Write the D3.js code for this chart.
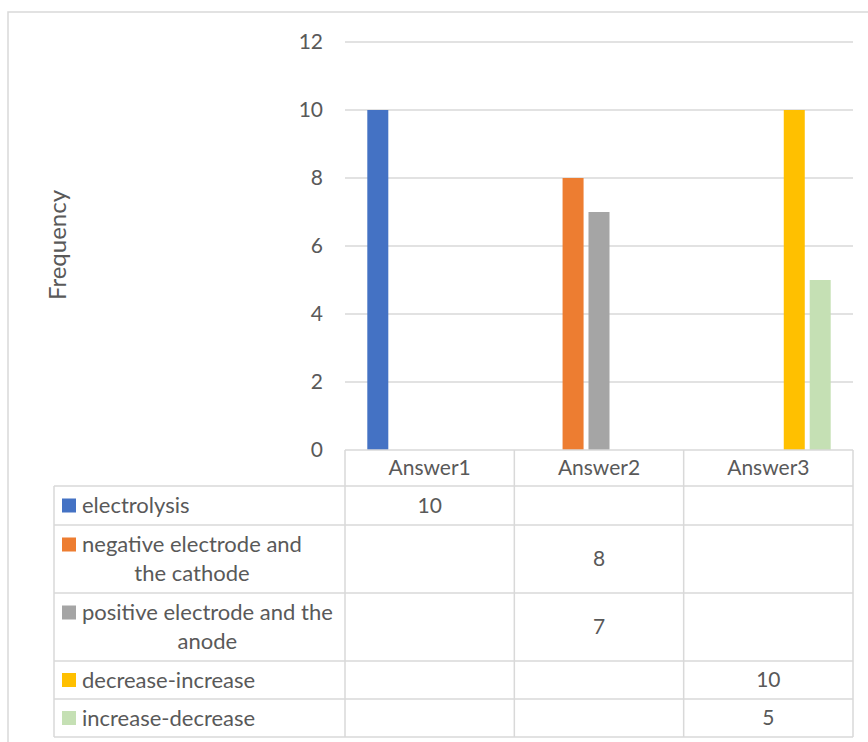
<!DOCTYPE html>
<html>
<head>
<meta charset="utf-8">
<script src="https://cdn.jsdelivr.net/npm/d3@7"></script>
<style>
  body { margin: 0; background: #fff; }
  text { font-family: Lato, "Open Sans", sans-serif; fill: #595959; }
</style>
</head>
<body>
<svg id="chart" width="868" height="742"></svg>
<script>
// chart data
const categories = ["Answer1", "Answer2", "Answer3"];
const seriesNames = [
  ["electrolysis"],
  ["negative electrode and", "the cathode"],
  ["positive electrode and the", "anode"],
  ["decrease-increase"],
  ["increase-decrease"]
];
const seriesColors = ["#4472c4", "#ed7d31", "#a5a5a5", "#ffc000", "#c5e0b4"];
// values per series, one per category (null = empty)
const seriesValues = [
  [10, null, null],
  [null, 8, null],
  [null, 7, null],
  [null, null, 10],
  [null, null, 5]
];
const yTicks = [0, 2, 4, 6, 8, 10, 12];

const svg = d3.select("#chart");
const gridColor = "#d9d9d9";
const fs = 21;

// outer chart border (right / bottom run off the picture)
svg.append("path")
  .attr("d", "M8,742 V12 H868")
  .attr("fill", "none")
  .attr("stroke", gridColor)
  .attr("stroke-width", 1.5);

const plotLeft = 345, plotRight = 853, plotTop = 42, plotBottom = 450;

const y = d3.scaleLinear().domain([0, 12]).range([plotBottom, plotTop]);
const x0 = d3.scaleBand().domain(categories).range([plotLeft, plotRight]).padding(0);
const x1 = d3.scaleBand().domain(d3.range(seriesNames.length))
  .range([0, x0.bandwidth()]).paddingInner(0.19).paddingOuter(0.86);

// gridlines
svg.append("g").selectAll("line")
  .data(yTicks.filter(t => t > 0))
  .enter().append("line")
  .attr("x1", plotLeft).attr("x2", plotRight)
  .attr("y1", d => y(d)).attr("y2", d => y(d))
  .attr("stroke", gridColor).attr("stroke-width", 1.5);

// y tick labels
svg.append("g").selectAll("text")
  .data(yTicks)
  .enter().append("text")
  .attr("x", 323)
  .attr("y", d => y(d))
  .attr("dy", "0.35em")
  .attr("text-anchor", "end")
  .attr("font-size", fs)
  .text(d => d);

// y axis title
svg.append("text")
  .attr("transform", "translate(58,245) rotate(-90)")
  .attr("text-anchor", "middle")
  .attr("dy", "0.35em")
  .attr("font-size", 24)
  .text("Frequency");

// bars
seriesValues.forEach((vals, si) => {
  svg.append("g").selectAll("rect")
    .data(vals.map((v, ci) => ({ v, cat: categories[ci] })).filter(d => d.v != null))
    .enter().append("rect")
    .attr("x", d => x0(d.cat) + x1(si))
    .attr("width", x1.bandwidth())
    .attr("y", d => y(d.v))
    .attr("height", d => y(0) - y(d.v))
    .attr("fill", seriesColors[si]);
});

// data table
const tableLeft = 54;
const headerBottom = 486;
const rowHeights = [39, 68, 68, 38, 38];
const rowTops = [];
let acc = headerBottom;
rowHeights.forEach(h => { rowTops.push(acc); acc += h; });
const tableBottom = acc;

const tbl = svg.append("g")
  .attr("stroke", gridColor).attr("stroke-width", 1.5).attr("fill", "none");

// axis line / header top
tbl.append("line").attr("x1", plotLeft).attr("x2", plotRight)
  .attr("y1", plotBottom).attr("y2", plotBottom);
// horizontal row lines
tbl.selectAll(".hrow")
  .data(rowTops.concat([tableBottom]))
  .enter().append("line")
  .attr("x1", tableLeft).attr("x2", plotRight)
  .attr("y1", d => d).attr("y2", d => d);
// vertical lines for category columns
tbl.selectAll(".vcol")
  .data(categories.map(c => x0(c)).concat([plotRight]))
  .enter().append("line")
  .attr("x1", d => d).attr("x2", d => d)
  .attr("y1", plotBottom).attr("y2", tableBottom);
// left edge of legend column
tbl.append("line").attr("x1", tableLeft).attr("x2", tableLeft)
  .attr("y1", headerBottom).attr("y2", tableBottom);

// header labels
svg.append("g").selectAll("text")
  .data(categories)
  .enter().append("text")
  .attr("x", d => x0(d) + x0.bandwidth() / 2)
  .attr("y", (plotBottom + headerBottom) / 2)
  .attr("dy", "0.35em")
  .attr("text-anchor", "middle")
  .attr("font-size", fs)
  .text(d => d);

// legend rows and values
seriesNames.forEach((lines, si) => {
  const top = rowTops[si], h = rowHeights[si];
  const mid = top + h / 2;
  const lineGap = 29;
  const firstY = lines.length > 1 ? mid - lineGap / 2 : mid;

  svg.append("rect")
    .attr("x", 62).attr("y", firstY - 7)
    .attr("width", 14).attr("height", 14)
    .attr("fill", seriesColors[si]);

  const t1 = svg.append("text")
    .attr("x", 82).attr("y", firstY).attr("dy", "0.35em")
    .attr("font-size", 22)
    .text(lines[0]);
  if (lines.length > 1) {
    const w = t1.node().getComputedTextLength();
    svg.append("text")
      .attr("x", 82 + w / 2).attr("y", firstY + lineGap).attr("dy", "0.35em")
      .attr("text-anchor", "middle")
      .attr("font-size", 22)
      .text(lines[1]);
  }

  seriesValues[si].forEach((v, ci) => {
    if (v == null) return;
    svg.append("text")
      .attr("x", x0(categories[ci]) + x0.bandwidth() / 2)
      .attr("y", mid).attr("dy", "0.35em")
      .attr("text-anchor", "middle")
      .attr("font-size", fs)
      .text(v);
  });
});
</script>
</body>
</html>
